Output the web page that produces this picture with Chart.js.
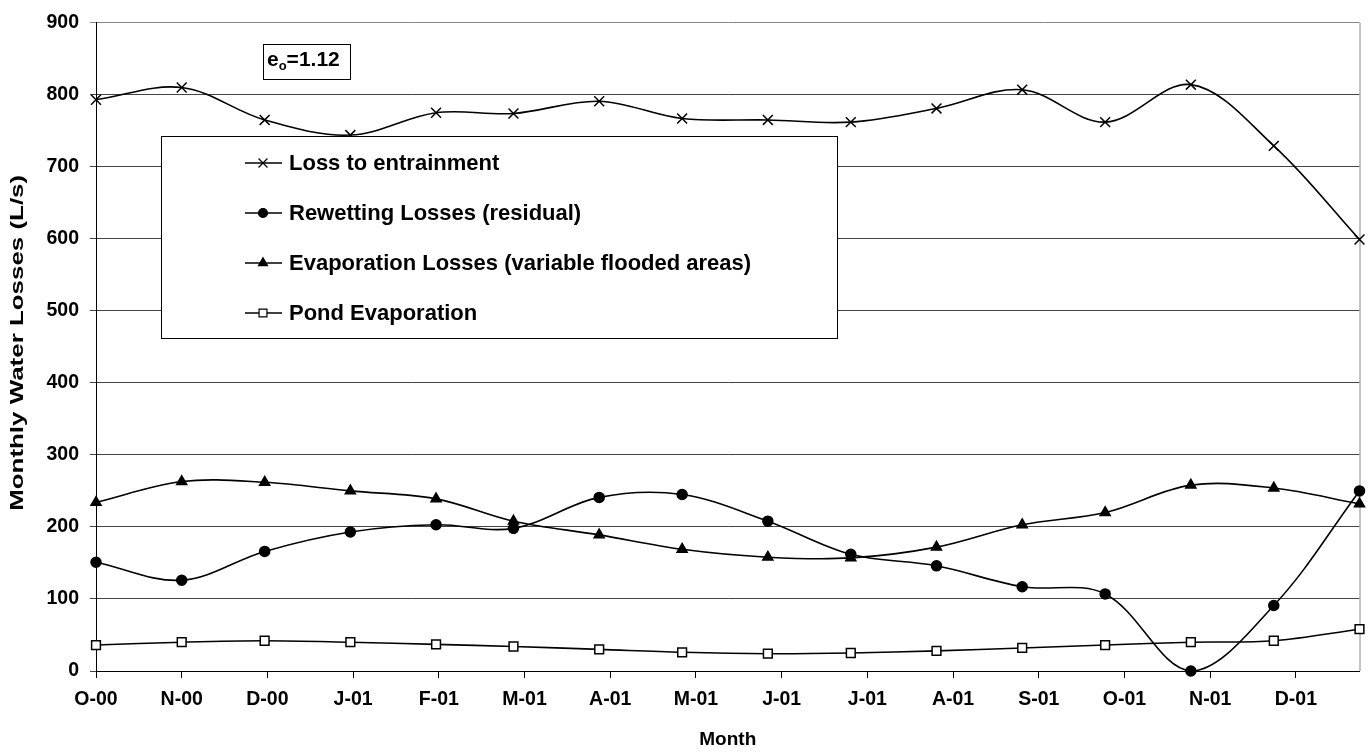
<!DOCTYPE html>
<html>
<head>
<meta charset="utf-8">
<script src="https://cdn.jsdelivr.net/npm/chart.js@4/dist/chart.umd.min.js"></script>
<style>
  html, body { margin: 0; padding: 0; background: #fff; }
</style>
</head>
<body>
<canvas id="lossChart" width="1368" height="753"></canvas>
<script>
// monthly sample dates (x), one per month
const monthDates = ['2000-10-01', '2000-11-01', '2000-12-01', '2001-01-01', '2001-02-01', '2001-03-01',
  '2001-04-01', '2001-05-01', '2001-06-01', '2001-07-01', '2001-08-01', '2001-09-01',
  '2001-10-01', '2001-11-01', '2001-12-01', '2002-01-01'];

// axis ticks every 31 days from the first date
const tickLabels = ['O-00', 'N-00', 'D-00', 'J-01', 'F-01', 'M-01', 'A-01', 'M-01',
  'J-01', 'J-01', 'A-01', 'S-01', 'O-01', 'N-01', 'D-01'];
const tickStepDays = 31;

const entrainment = [793, 810, 765, 744, 775, 774, 791, 767, 765, 762, 781, 807, 762, 814, 729, 599];
const rewetting = [151, 126, 166, 193, 203, 198, 241, 245, 208, 162, 146, 117, 107, 0, 91, 250];
const evapVariable = [234, 263, 262, 250, 239, 208, 189, 169, 158, 157, 172, 203, 220, 258, 254, 232];
const pondEvap = [36, 40, 42, 40, 37, 34, 30, 26, 24, 25, 28, 32, 36, 40, 42, 58];

const seriesNames = ['Loss to entrainment', 'Rewetting Losses (residual)',
  'Evaporation Losses (variable flooded areas)', 'Pond Evaporation'];

const yTitle = 'Monthly Water Losses (L/s)';
const eoLabel = { base: 'e', sub: 'o', rest: '=1.12' };

const FONT = '"Liberation Sans", Arial, sans-serif';

const day0 = Date.parse(monthDates[0]);
const dayOf = d => Math.round((Date.parse(d) - day0) / 86400000);
const xDays = monthDates.map(dayOf);

function toPoints(values) {
  return values.map((v, i) => ({ x: xDays[i], y: v }));
}

function makeSet(label, values, style, radius, fill) {
  return {
    label: label,
    data: toPoints(values),
    borderColor: '#000',
    borderWidth: 1.6,
    pointStyle: style,
    pointRadius: radius,
    pointHoverRadius: radius,
    pointBorderColor: '#000',
    pointBorderWidth: 1.5,
    pointBackgroundColor: fill,
    tension: 0.35,
    clip: false
  };
}

const datasets = [
  makeSet(seriesNames[0], entrainment, 'crossRot', 7, '#000'),
  makeSet(seriesNames[1], rewetting, 'circle', 5, '#000'),
  makeSet(seriesNames[2], evapVariable, 'triangle', 5.8, '#000'),
  makeSet(seriesNames[3], pondEvap, 'rect', 6.2, '#fff')
];

const overlay = {
  id: 'overlay',
  beforeDatasetsDraw(chart) {
    const { ctx, chartArea: a } = chart;
    ctx.save();
    ctx.strokeStyle = '#888';
    ctx.lineWidth = 1;
    ctx.beginPath();
    ctx.moveTo(a.right + 0.5, a.top);
    ctx.lineTo(a.right + 0.5, a.bottom);
    ctx.stroke();
    ctx.restore();
  },
  afterDraw(chart) {
    const { ctx, chartArea: a } = chart;
    ctx.save();

    // y axis title, stretched along its length like the original
    ctx.font = 'bold 19px ' + FONT;
    const w = ctx.measureText(yTitle).width;
    ctx.translate(18, (a.top + a.bottom) / 2 - 4);
    ctx.rotate(-Math.PI / 2);
    ctx.scale(336 / w, 1);
    ctx.fillStyle = '#000';
    ctx.textAlign = 'center';
    ctx.textBaseline = 'middle';
    ctx.fillText(yTitle, 0, 0);
    ctx.restore();
  },
  afterDatasetsDraw(chart) {
    const ctx = chart.ctx;
    ctx.save();

    // legend box
    ctx.fillStyle = '#fff';
    ctx.fillRect(161, 136, 676, 202);
    ctx.strokeStyle = '#000';
    ctx.lineWidth = 1;
    ctx.strokeRect(161.5, 136.5, 676, 202);

    ctx.font = 'bold 22px ' + FONT;
    ctx.textBaseline = 'middle';
    ctx.textAlign = 'left';
    chart.data.datasets.forEach((ds, i) => {
      const y = 163 + i * 50;
      ctx.strokeStyle = '#000';
      ctx.lineWidth = 1.6;
      ctx.beginPath();
      ctx.moveTo(245, y);
      ctx.lineTo(282, y);
      ctx.stroke();
      ctx.fillStyle = ds.pointBackgroundColor;
      ctx.strokeStyle = '#000';
      ctx.lineWidth = 1.2;
      Chart.helpers.drawPoint(ctx, {
        pointStyle: ds.pointStyle,
        radius: ds.pointRadius * 0.9,
        rotation: 0,
        borderWidth: 1.2
      }, 263, y);
      ctx.fillStyle = '#000';
      ctx.fillText(ds.label, 289, y + 1);
    });

    // e_o annotation
    ctx.fillStyle = '#fff';
    ctx.fillRect(263, 44, 87, 35);
    ctx.strokeStyle = '#000';
    ctx.lineWidth = 1;
    ctx.strokeRect(263.5, 44.5, 87, 35);
    ctx.fillStyle = '#000';
    ctx.textBaseline = 'alphabetic';
    ctx.font = 'bold 21px ' + FONT;
    let x = 267;
    ctx.fillText(eoLabel.base, x, 66);
    x += ctx.measureText(eoLabel.base).width;
    ctx.font = 'bold 13px ' + FONT;
    ctx.fillText(eoLabel.sub, x, 70);
    x += ctx.measureText(eoLabel.sub).width;
    ctx.font = 'bold 21px ' + FONT;
    ctx.fillText(eoLabel.rest, x, 66);

    ctx.restore();
  }
};

const ctx = document.getElementById('lossChart').getContext('2d');
new Chart(ctx, {
  type: 'line',
  data: { datasets: datasets },
  plugins: [overlay],
  options: {
    responsive: false,
    animation: false,
    devicePixelRatio: 1,
    layout: { padding: { left: 0, right: 7, top: 18, bottom: 0 } },
    plugins: {
      legend: { display: false },
      tooltip: { enabled: false }
    },
    scales: {
      x: {
        type: 'linear',
        min: 0,
        max: xDays[xDays.length - 1],
        afterFit: s => { s.height = 82; },
        afterBuildTicks: s => {
          s.ticks = tickLabels.map((t, i) => ({ value: i * tickStepDays }));
        },
        ticks: {
          autoSkip: false,
          maxRotation: 0,
          padding: 10,
          color: '#000',
          font: { family: FONT, size: 19.5, weight: 'bold' },
          callback: (v, i) => tickLabels[i]
        },
        grid: {
          drawOnChartArea: false,
          drawTicks: true,
          tickLength: 7,
          color: '#000'
        },
        border: { color: '#000', width: 1 },
        title: {
          display: true,
          text: 'Month',
          color: '#000',
          font: { family: FONT, size: 19, weight: 'bold' },
          padding: { top: 0, bottom: 2 }
        }
      },
      y: {
        min: 0,
        max: 900,
        afterFit: s => { s.width = 96; },
        ticks: {
          stepSize: 100,
          padding: 11,
          color: '#000',
          font: { family: FONT, size: 19.5, weight: 'bold' }
        },
        grid: {
          tickLength: 6,
          color: c => (c.tick && c.tick.value === 900 ? '#888' : '#444'),
          lineWidth: 1
        },
        border: { color: '#000', width: 1 }
      }
    }
  }
});
</script>
</body>
</html>
